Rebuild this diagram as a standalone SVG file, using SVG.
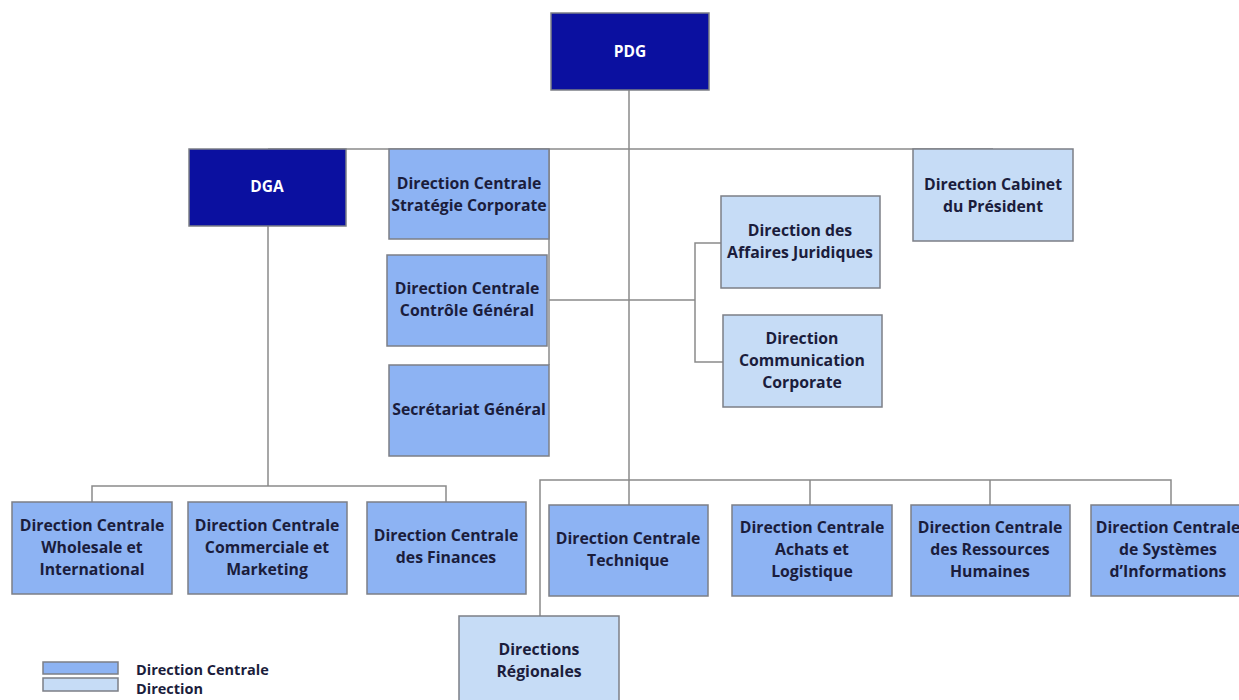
<svg xmlns="http://www.w3.org/2000/svg" width="1239" height="700" viewBox="0 0 1239 700">
<style>
.dc{fill:#8db3f3;stroke:#7c7f86;stroke-width:1.5}
.d{fill:#c6dcf6;stroke:#7c7f86;stroke-width:1.5}
.top{fill:#0b10a0;stroke:#7c7f86;stroke-width:1.5}
.t{font-family:"Open Sans","Liberation Sans",sans-serif;font-weight:700;font-size:15.8px;fill:#1b1d3c;text-anchor:middle}
.tw{font-family:"Open Sans","Liberation Sans",sans-serif;font-weight:700;font-size:15.5px;fill:#ffffff;text-anchor:middle}
.tl{font-family:"Open Sans","Liberation Sans",sans-serif;font-weight:700;font-size:14.5px;fill:#1b1d3c}
.c{fill:none;stroke:#8a8a8a;stroke-width:1.5}
</style>
<rect width="1239" height="700" fill="#ffffff"/>
<g id="connectors">
<path class="c" d="M629 90V480"/>
<path class="c" d="M268 149H993"/>
<path class="c" d="M549 149V365"/>
<path class="c" d="M549 300H695M721 243H695V362H723"/>
<path class="c" d="M268 226V486M92 502V486H446V502"/>
<path class="c" d="M540 616V480H1171V505M629 480V505M810 480V505M990 480V505"/>
</g>
<g id="pdg"><rect class="top" x="551" y="13" width="158" height="77"/><text class="tw" x="630" y="57">PDG</text></g>
<g id="dga"><rect class="top" x="189" y="149" width="157" height="77"/><text class="tw" x="267" y="192">DGA</text></g>
<g id="strategie"><rect class="dc" x="389" y="149" width="160" height="90"/><text class="t" x="469" y="189">Direction Centrale</text><text class="t" x="469" y="211">Stratégie Corporate</text></g>
<g id="controle"><rect class="dc" x="387" y="255" width="160" height="91"/><text class="t" x="467" y="294">Direction Centrale</text><text class="t" x="467" y="316">Contrôle Général</text></g>
<g id="secretariat"><rect class="dc" x="389" y="365" width="160" height="91"/><text class="t" x="469" y="415">Secrétariat Général</text></g>
<g id="cabinet"><rect class="d" x="913" y="149" width="160" height="92"/><text class="t" x="993" y="190">Direction Cabinet</text><text class="t" x="993" y="212">du Président</text></g>
<g id="juridiques"><rect class="d" x="721" y="196" width="159" height="92"/><text class="t" x="800" y="236">Direction des</text><text class="t" x="800" y="258">Affaires Juridiques</text></g>
<g id="communication"><rect class="d" x="723" y="315" width="159" height="92"/><text class="t" x="802" y="344">Direction</text><text class="t" x="802" y="366">Communication</text><text class="t" x="802" y="388">Corporate</text></g>
<g id="wholesale"><rect class="dc" x="12" y="502" width="160" height="92"/><text class="t" x="92" y="531">Direction Centrale</text><text class="t" x="92" y="553">Wholesale et</text><text class="t" x="92" y="575">International</text></g>
<g id="commerciale"><rect class="dc" x="188" y="502" width="159" height="92"/><text class="t" x="267" y="531">Direction Centrale</text><text class="t" x="267" y="553">Commerciale et</text><text class="t" x="267" y="575">Marketing</text></g>
<g id="finances"><rect class="dc" x="367" y="502" width="159" height="92"/><text class="t" x="446" y="541">Direction Centrale</text><text class="t" x="446" y="563">des Finances</text></g>
<g id="technique"><rect class="dc" x="549" y="505" width="159" height="91"/><text class="t" x="628" y="544">Direction Centrale</text><text class="t" x="628" y="566">Technique</text></g>
<g id="achats"><rect class="dc" x="732" y="505" width="160" height="91"/><text class="t" x="812" y="533">Direction Centrale</text><text class="t" x="812" y="555">Achats et</text><text class="t" x="812" y="577">Logistique</text></g>
<g id="rh"><rect class="dc" x="911" y="505" width="159" height="91"/><text class="t" x="990" y="533">Direction Centrale</text><text class="t" x="990" y="555">des Ressources</text><text class="t" x="990" y="577">Humaines</text></g>
<g id="si"><rect class="dc" x="1091" y="505" width="160" height="91"/><text class="t" x="1168" y="533">Direction Centrale</text><text class="t" x="1168" y="555">de Systèmes</text><text class="t" x="1168" y="577">d’Informations</text></g>
<g id="regionales"><rect class="d" x="459" y="616" width="160" height="100"/><text class="t" x="539" y="655">Directions</text><text class="t" x="539" y="677">Régionales</text></g>
<g id="legend">
<rect class="dc" x="43" y="662" width="75" height="12"/>
<rect class="d" x="43" y="678" width="75" height="13"/>
<text class="tl" x="136" y="675">Direction Centrale</text>
<text class="tl" x="136" y="694">Direction</text>
</g>
</svg>
